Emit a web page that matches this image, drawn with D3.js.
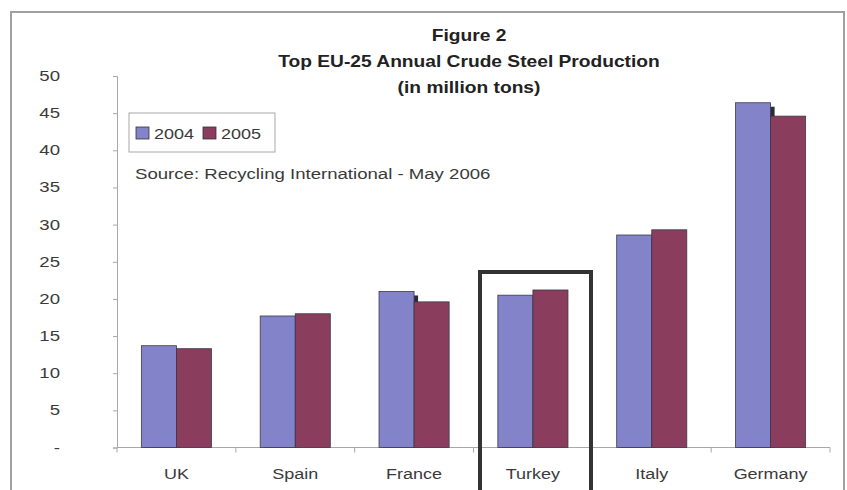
<!DOCTYPE html>
<html>
<head>
<meta charset="utf-8">
<script src="https://d3js.org/d3.v7.min.js"></script>
<style>
  body { margin: 0; background: #fff; }
  svg text { font-family: "Liberation Sans", Arial, sans-serif; }
</style>
</head>
<body>
<div id="chart"></div>
<script>
// values (million tons)
const countries = ["UK", "Spain", "France", "Turkey", "Italy", "Germany"];
const years = ["2004", "2005"];
const prod2004 = [13.7, 17.7, 21.0, 20.5, 28.6, 46.4];
const prod2005 = [13.3, 18.0, 19.6, 21.2, 29.3, 44.6];
const yTicks = [0, 5, 10, 15, 20, 25, 30, 35, 40, 45, 50];
const titleLines = ["Figure 2", "Top EU-25 Annual Crude Steel Production", "(in million tons)"];
const highlight = "Turkey";

const width = 847, height = 490;
const colors = { "2004": "#8383c9", "2005": "#8b3d5d" };
const stretch = 1.2; // the scanned figure's text is wider than it is tall

const svg = d3.select("#chart").append("svg")
    .attr("width", width)
    .attr("height", height);

// places a horizontally stretched text
function label(g, tx, ty) {
    return g.append("text")
        .attr("transform", `translate(${tx},${ty}) scale(${stretch},1)`);
}

// outer frame
svg.append("rect")
    .attr("x", 11).attr("y", 12)
    .attr("width", 833).attr("height", 500)
    .attr("fill", "#fff")
    .attr("stroke", "#a0a0a0")
    .attr("stroke-width", 2);

const x = d3.scaleBand()
    .domain(countries)
    .range([117, 830])
    .paddingInner(0.41)
    .paddingOuter(0.205);

const xSub = d3.scaleBand()
    .domain(years)
    .range([0, x.bandwidth()]);

const y = d3.scaleLinear()
    .domain([0, 50])
    .range([447.5, 76]);

// y axis
const yAxis = svg.append("g")
    .attr("transform", "translate(117,0)")
    .call(d3.axisLeft(y).tickValues(yTicks).tickSize(4).tickFormat(""));
yAxis.select(".domain").attr("stroke", "#a8a8a8");
yAxis.selectAll(".tick line").attr("stroke", "#a8a8a8");
yTicks.forEach(t => {
    label(svg, 60, y(t) + 5)
        .attr("text-anchor", "end")
        .attr("font-size", 15.5)
        .attr("fill", "#3a3a3a")
        .text(t === 0 ? "-" : t);
});

// x axis with ticks at category boundaries
const xAxis = svg.append("g").attr("transform", `translate(0,${y(0)})`);
xAxis.append("line")
    .attr("x1", 117).attr("x2", 830)
    .attr("stroke", "#a8a8a8");
const edge = x.step() * 0.205;
const bounds = countries.map(c => x(c) - edge).concat([830]);
xAxis.selectAll("line.tk").data(bounds).enter().append("line")
    .attr("class", "tk")
    .attr("x1", d => d).attr("x2", d => d)
    .attr("y1", 0).attr("y2", 5)
    .attr("stroke", "#a8a8a8");
countries.forEach(c => {
    label(xAxis, x(c) + x.bandwidth() / 2, 31)
        .attr("text-anchor", "middle")
        .attr("font-size", 15)
        .attr("fill", "#3a3a3a")
        .text(c);
});

// bars
const rows = [];
countries.forEach((c, i) => {
    rows.push({ country: c, year: "2004", value: prod2004[i] });
    rows.push({ country: c, year: "2005", value: prod2005[i] });
});

const bars = svg.append("g");
// shadow cast by the 2004 bars
bars.selectAll("rect.shadow")
    .data(rows.filter(d => d.year === "2004"))
    .enter().append("rect")
    .attr("class", "shadow")
    .attr("x", d => x(d.country) + xSub(d.year) + 4)
    .attr("y", d => y(d.value) + 4)
    .attr("width", xSub.bandwidth())
    .attr("height", d => y(0) - y(d.value) - 4)
    .attr("fill", "#2a2a3a");

bars.selectAll("rect.bar")
    .data(rows)
    .enter().append("rect")
    .attr("class", "bar")
    .attr("x", d => x(d.country) + xSub(d.year))
    .attr("y", d => y(d.value))
    .attr("width", xSub.bandwidth())
    .attr("height", d => y(0) - y(d.value))
    .attr("fill", d => colors[d.year])
    .attr("stroke", "#3a3a4a")
    .attr("stroke-width", 0.8);

// highlight box round Turkey
svg.append("rect")
    .attr("x", x(highlight) - edge + 6.5)
    .attr("y", 272)
    .attr("width", 111)
    .attr("height", 260)
    .attr("fill", "none")
    .attr("stroke", "#333")
    .attr("stroke-width", 4);

// title
titleLines.forEach((t, i) => {
    label(svg, 469, 41 + i * 26)
        .attr("text-anchor", "middle")
        .attr("font-size", 16)
        .attr("font-weight", "bold")
        .attr("fill", "#222")
        .text(t);
});

// legend
const legend = svg.append("g");
legend.append("rect")
    .attr("x", 129).attr("y", 113)
    .attr("width", 146).attr("height", 39)
    .attr("fill", "#fff")
    .attr("stroke", "#a8a8a8");
years.forEach((yr, i) => {
    const gx = 136 + i * 67;
    legend.append("rect")
        .attr("x", gx).attr("y", 127)
        .attr("width", 13).attr("height", 12)
        .attr("fill", colors[yr])
        .attr("stroke", "#333")
        .attr("stroke-width", 0.8);
    label(legend, gx + 18, 139)
        .attr("font-size", 15)
        .attr("fill", "#3a3a3a")
        .text(yr);
});

label(svg, 135, 179)
    .attr("font-size", 15.5)
    .attr("fill", "#3a3a3a")
    .text("Source: Recycling International - May 2006");
</script>
</body>
</html>
